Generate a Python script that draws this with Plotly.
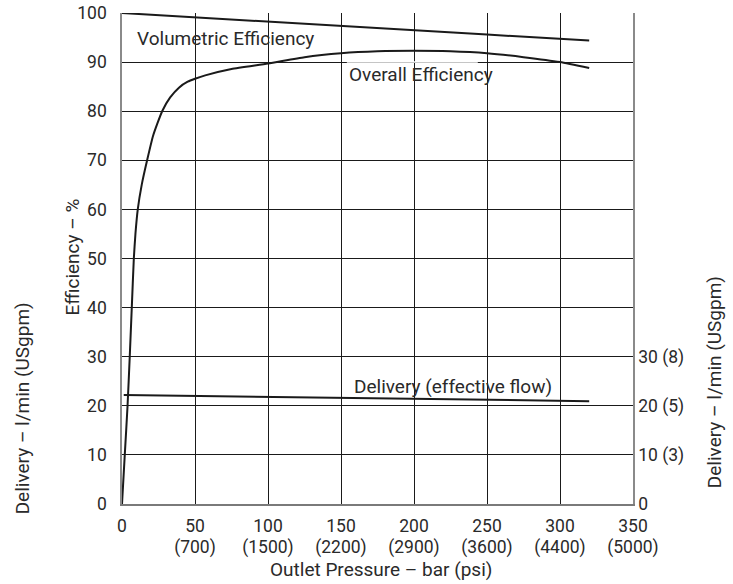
import plotly.graph_objects as go

# ---- data ----
pressure_ticks = [0, 50, 100, 150, 200, 250, 300, 350]
pressure_bar_labels = ["0", "50", "100", "150", "200", "250", "300", "350"]
psi_ticks = [50, 100, 150, 200, 250, 300, 350]
psi_labels = ["(700)", "(1500)", "(2200)", "(2900)", "(3600)", "(4400)", "(5000)"]

eff_ticks = [0, 10, 20, 30, 40, 50, 60, 70, 80, 90, 100]
delivery_ticks = [0, 10, 20, 30]
delivery_labels = ["0", "10 (3)", "20 (5)", "30 (8)"]

vol_p = [0, 100, 170, 250, 320]
vol_eff = [100, 98.2, 96.9, 95.6, 94.4]

ov_p = [0, 1.9, 3.8, 5.3, 6.7, 8.1, 9.2, 10.8, 13.5, 17.2, 21.3, 27.5, 33, 39, 45, 50, 57,
        75, 100, 125, 150, 175, 200, 225, 250, 275, 300, 320]
ov_eff = [0, 10, 20, 30, 40, 50, 55, 60, 65, 70, 75, 80, 82.8, 84.8, 86.0, 86.6, 87.3,
          88.6, 89.7, 91.0, 91.8, 92.2, 92.3, 92.2, 91.8, 91.0, 90.0, 88.8]

del_p = [1.2, 100, 200, 320]
del_flow = [22.2, 21.8, 21.4, 20.95]

FONT = "Roboto, Liberation Sans, Arial"
TXT = "#2a2a2a"
LINE = "#1a1a1a"
TICK_SIZE = 17.5
ANN_SIZE = 19

fig = go.Figure()
fig.add_trace(go.Scatter(x=vol_p, y=vol_eff, mode="lines",
                         line=dict(color=LINE, width=2), hoverinfo="skip"))
fig.add_trace(go.Scatter(x=ov_p, y=ov_eff, mode="lines",
                         line=dict(color=LINE, width=2, shape="spline", smoothing=0.5),
                         hoverinfo="skip"))
fig.add_trace(go.Scatter(x=del_p, y=del_flow, mode="lines",
                         line=dict(color=LINE, width=2), hoverinfo="skip"))
# invisible trace to activate the secondary axes
fig.add_trace(go.Scatter(x=[None], y=[None], xaxis="x2", yaxis="y2",
                         showlegend=False, hoverinfo="skip"))

fig.update_layout(
    width=733, height=584,
    margin=dict(l=121.5, r=100, t=12.5, b=80, autoexpand=False),
    paper_bgcolor="white", plot_bgcolor="white",
    showlegend=False,
    font=dict(family=FONT, size=TICK_SIZE, color=TXT),
    xaxis=dict(range=[0, 350], tickvals=pressure_ticks, ticktext=pressure_bar_labels,
               showgrid=True, gridcolor=LINE, gridwidth=1, zeroline=False,
               showline=True, linecolor="#7a7a7a", linewidth=2, automargin=False,
               ticks="", ticklabelstandoff=5, fixedrange=True),
    xaxis2=dict(range=[0, 350], tickvals=psi_ticks, ticktext=psi_labels,
                overlaying="x", anchor="y", side="bottom", automargin=False,
                showgrid=False, zeroline=False, showline=False,
                ticks="", ticklabelstandoff=30, fixedrange=True),
    yaxis=dict(range=[0, 100], tickvals=eff_ticks, automargin=False,
               showgrid=True, gridcolor=LINE, gridwidth=1, zeroline=False,
               showline=True, linecolor="#8a8a8a", linewidth=1.5,
               ticks="", ticklabelstandoff=10, fixedrange=True),
    yaxis2=dict(range=[0, 100], tickvals=delivery_ticks, ticktext=delivery_labels,
                overlaying="y", side="right", anchor="x", automargin=False,
                showgrid=False, zeroline=False,
                showline=True, linecolor="#8a8a8a", linewidth=1.5,
                ticks="", ticklabelstandoff=0, fixedrange=True),
)

# small gap in the 90 % grid line behind the "Overall Efficiency" label
fig.add_shape(type="rect", xref="x", yref="y", x0=154, x1=243.7, y0=89.85, y1=90.15,
              fillcolor="white", line=dict(width=0), layer="between")

ann_font = dict(family=FONT, size=ANN_SIZE, color=TXT)
fig.add_annotation(x=71.1, y=94.8, xref="x", yref="y", text="Volumetric Efficiency",
                   showarrow=False, font=ann_font, xanchor="center", yanchor="middle")
fig.add_annotation(x=204.7, y=87.5, xref="x", yref="y", text="Overall Efficiency",
                   showarrow=False, font=ann_font, xanchor="center", yanchor="middle")
fig.add_annotation(x=226.6, y=24.0, xref="x", yref="y", text="Delivery (effective flow)",
                   showarrow=False, font=ann_font, xanchor="center", yanchor="middle")

# axis titles
fig.add_annotation(x=177.5, y=-0.134, xref="x", yref="paper",
                   text="Outlet Pressure – bar (psi)", showarrow=False, font=ann_font,
                   xanchor="center", yanchor="middle")
fig.add_annotation(x=-0.0978, y=50.2, xref="paper", yref="y", text="Efficiency – %",
                   textangle=-90, showarrow=False, font=ann_font,
                   xanchor="center", yanchor="middle")
fig.add_annotation(x=-0.1945, y=19.4, xref="paper", yref="y",
                   text="Delivery – l/min (USgpm)", textangle=-90, showarrow=False,
                   font=ann_font, xanchor="center", yanchor="middle")
fig.add_annotation(x=1.1584, y=24.8, xref="paper", yref="y",
                   text="Delivery – l/min (USgpm)", textangle=-90, showarrow=False,
                   font=ann_font, xanchor="center", yanchor="middle")

fig.write_html("out.html", config={"displayModeBar": False},
               post_script="document.body.style.margin='0px';")
